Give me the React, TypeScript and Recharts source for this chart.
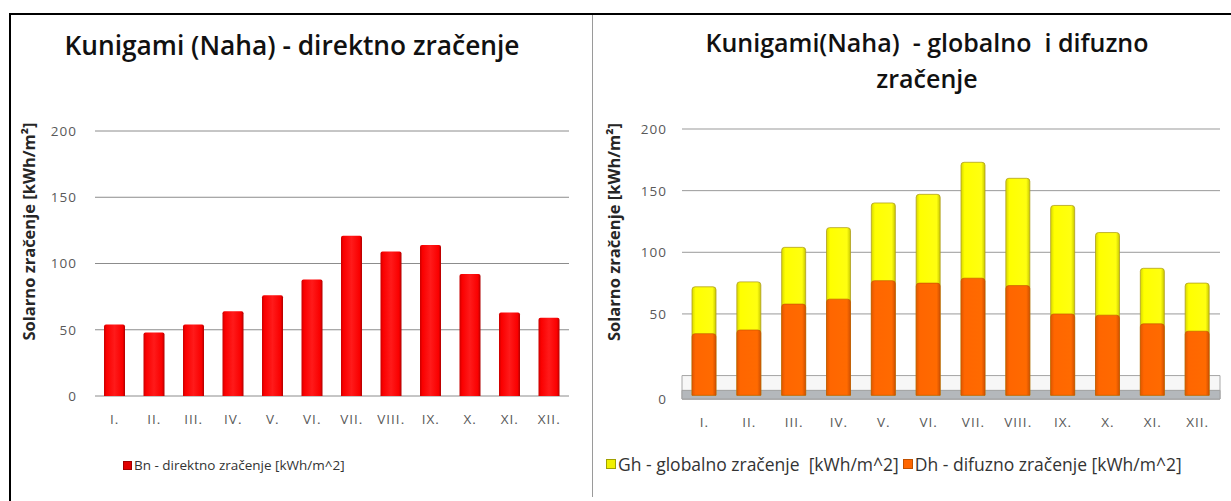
import React from "react";
import {
  BarChart,
  Bar,
  XAxis,
  YAxis,
  CartesianGrid,
  ReferenceArea,
  Legend,
} from "recharts";

const months = ["I.", "II.", "III.", "IV.", "V.", "VI.", "VII.", "VIII.", "IX.", "X.", "XI.", "XII."];
const bn = [54, 48, 54, 64, 76, 88, 121, 109, 114, 92, 63, 59];
const gh = [72, 76, 104, 120, 140, 147, 173, 160, 138, 116, 87, 75];
const dh = [34, 37, 58, 62, 77, 75, 79, 73, 50, 49, 42, 36];
const yTicks = [0, 50, 100, 150, 200];

const bnName = "Bn - direktno zračenje [kWh/m^2]";
const ghName = "Gh - globalno zračenje  [kWh/m^2]";
const dhName = "Dh - difuzno zračenje [kWh/m^2]";
const yTitle = "Solarno zračenje [kWh/m²]";

// depth of the 3D floor on the right chart, below zero
const FLOOR = -19;
const BAR_FOOT = -16;

const leftData = months.map((m, i) => ({ m, bn: bn[i] }));
const rightData = months.map((m, i) => ({ m, gh: [BAR_FOOT, gh[i]], dh: [BAR_FOOT, dh[i]] }));

const tickFont = { fill: "#595959", fontSize: 13.5, fontFamily: "Open Sans", letterSpacing: 1 };
const titleStyle: React.CSSProperties = {
  position: "absolute",
  fontFamily: "Open Sans",
  fontWeight: 600,
  color: "#111",
  whiteSpace: "pre",
  textAlign: "center",
};

const YTitle = ({ viewBox, dx }: any) => {
  const cx = viewBox.x + dx;
  const cy = viewBox.y + viewBox.height / 2 - 32;
  return (
    <text
      x={cx}
      y={cy}
      transform={`rotate(-90 ${cx} ${cy})`}
      textAnchor="middle"
      dominantBaseline="central"
      fill="#262626"
      fontSize={16.5}
      fontWeight={700}
      fontFamily="Open Sans"
    >
      {yTitle}
    </text>
  );
};

const RightYTick = ({ x, y, payload }: any) => (
  <text
    x={x}
    y={payload.value === 0 ? y + 23 : y}
    dy={5}
    textAnchor="end"
    {...tickFont}
  >
    {payload.value}
  </text>
);

const LegendBox = ({ payload, reverse, fontSize, box }: any) => {
  const items = reverse ? [...(payload || [])].reverse() : payload || [];
  return (
    <div style={{ display: "flex", fontFamily: "Open Sans", fontSize, color: "#333" }}>
      {items.map((p: any) => (
        <span key={p.value} style={{ display: "inline-flex", alignItems: "center", marginRight: 4, whiteSpace: "pre" }}>
          <span style={{ width: box, height: box, background: p.payload.legendFill, border: `1px solid ${p.payload.legendStroke}`, marginRight: 2 }} />
          {p.value}
        </span>
      ))}
    </div>
  );
};

export default function App() {
  return (
    <div style={{ position: "absolute", left: 0, top: 0, width: 1231, height: 501, background: "#fff", overflow: "hidden" }}>
      {/* frame */}
      <div style={{ position: "absolute", left: 9, top: 13, width: 1230, height: 500, borderLeft: "2px solid #000", borderTop: "2px solid #000" }} />
      <div style={{ position: "absolute", left: 592, top: 15, width: 1, height: 482, background: "#9a9a9a" }} />

      <div style={{ ...titleStyle, left: 0, top: 27, width: 584, fontSize: 26.3 }}>Kunigami (Naha) - direktno zračenje</div>
      <div style={{ ...titleStyle, left: 617, top: 24, width: 620, fontSize: 25, lineHeight: "36px" }}>
        {"Kunigami(Naha)  - globalno  i difuzno\nzračenje"}
      </div>

      <div style={{ position: "absolute", left: 0, top: 0 }}>
        <BarChart width={592} height={501} data={leftData} margin={{ top: 131, right: 23, bottom: 57, left: 0 }}>
          <defs>
            <linearGradient id="redG" x1="0" y1="0" x2="1" y2="0">
              <stop offset="0" stopColor="#c80000" />
              <stop offset="0.12" stopColor="#fa0000" />
              <stop offset="0.5" stopColor="#ff1a1a" />
              <stop offset="0.88" stopColor="#fa0000" />
              <stop offset="1" stopColor="#b00000" />
            </linearGradient>
          </defs>
          <CartesianGrid vertical={false} stroke="#8c8c8c" />
          <XAxis dataKey="m" axisLine={false} tickLine={false} tick={tickFont} tickMargin={12} height={30} interval={0} />
          <YAxis
            domain={[0, 200]}
            ticks={yTicks}
            width={95}
            axisLine={false}
            tickLine={false}
            tick={tickFont}
            tickMargin={12}
            label={<YTitle dx={28} />}
          />
          <Legend
            verticalAlign="bottom"
            content={<LegendBox fontSize={13.5} box={7} />}
            wrapperStyle={{ bottom: 27, left: 123, width: "auto" }}
          />
          <Bar
            dataKey="bn"
            name={bnName}
            fill="url(#redG)"
            barSize={21}
            radius={[2, 2, 0, 0]}
            isAnimationActive={false}
            {...({ legendFill: "#e00000", legendStroke: "#a00000" } as any)}
          />
        </BarChart>
      </div>

      <div style={{ position: "absolute", left: 592, top: 0 }}>
        <BarChart width={639} height={501} data={rightData} margin={{ top: 129, right: 11, bottom: 48, left: 0 }}>
          <defs>
            <linearGradient id="yelG" x1="0" y1="0" x2="1" y2="0">
              <stop offset="0" stopColor="#d8d800" />
              <stop offset="0.15" stopColor="#ffff00" />
              <stop offset="0.85" stopColor="#ffff10" />
              <stop offset="1" stopColor="#c8c800" />
            </linearGradient>
            <linearGradient id="orgG" x1="0" y1="0" x2="1" y2="0">
              <stop offset="0" stopColor="#e05800" />
              <stop offset="0.15" stopColor="#ff6600" />
              <stop offset="0.85" stopColor="#ff6a00" />
              <stop offset="1" stopColor="#d05000" />
            </linearGradient>
          </defs>
          <CartesianGrid vertical={false} stroke="#999" xAxisId="g" />
          <XAxis xAxisId="g" dataKey="m" axisLine={false} tickLine={false} tick={tickFont} tickMargin={12} height={30} interval={0} />
          <XAxis xAxisId="d" dataKey="m" hide height={0} />
          <YAxis
            domain={[FLOOR, 200]}
            ticks={yTicks}
            width={90}
            axisLine={false}
            tickLine={false}
            tick={<RightYTick />}
            tickMargin={9}
            label={<YTitle dx={21} />}
          />
          <ReferenceArea xAxisId="g" y1={FLOOR} y2={0} fill="#f7f7f7" fillOpacity={1} stroke="#a8a8a8" ifOverflow="visible" />
          <ReferenceArea xAxisId="g" y1={FLOOR} y2={-12} fill="#b4b8bc" fillOpacity={1} stroke="#a0a0a0" ifOverflow="visible" />
          <Legend
            verticalAlign="bottom"
            content={<LegendBox reverse fontSize={17.5} box={8} />}
            wrapperStyle={{ bottom: 25, left: 14, width: "auto" }}
          />
          <Bar
            xAxisId="g"
            dataKey="gh"
            name={ghName}
            fill="url(#yelG)"
            stroke="#b0a020"
            strokeWidth={0.8}
            barSize={24}
            radius={[3, 3, 0, 0]}
            isAnimationActive={false}
            {...({ legendFill: "#f0f000", legendStroke: "#a0a000" } as any)}
          />
          <Bar
            xAxisId="d"
            dataKey="dh"
            name={dhName}
            fill="url(#orgG)"
            stroke="#c05000"
            strokeWidth={0.6}
            barSize={24}
            radius={[3, 3, 0, 0]}
            isAnimationActive={false}
            {...({ legendFill: "#ff6600", legendStroke: "#c05000" } as any)}
          />
        </BarChart>
      </div>
    </div>
  );
}
